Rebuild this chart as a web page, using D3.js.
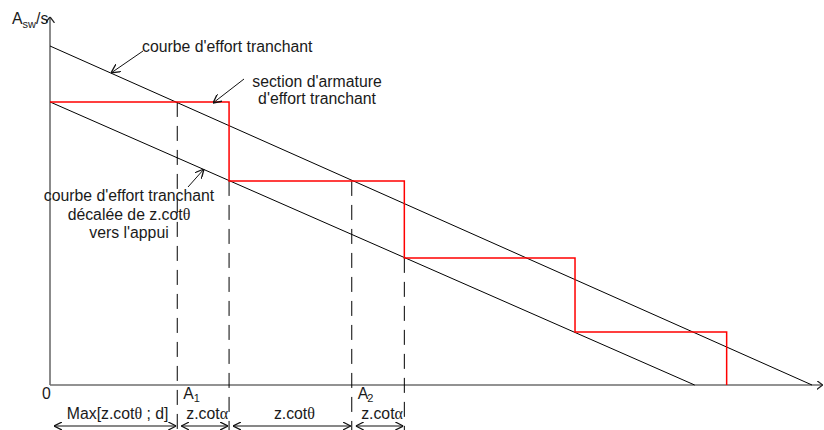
<!DOCTYPE html>
<html>
<head>
<meta charset="utf-8">
<script src="https://cdn.jsdelivr.net/npm/d3@7"></script>
<style>
  body { margin: 0; background: #fff; }
  text { font-family: "Liberation Sans", Arial, sans-serif; fill: #1a1a1a; }
</style>
</head>
<body>
<svg id="chart" width="824" height="430"></svg>
<script>
// Abscissa along the beam, ordinate = required Asw/s (arbitrary units)
const xDomain = [0, 100];
const yDomain = [0, 100];
const axisEnds = [101.4, 108.6];          // x and y arrow tips

// Shear force curve and the same curve shifted by z.cotθ towards the support
const shearCurve   = [[0, 100], [100, 0]];
const shiftedCurve = [[0, 83.5], [84.6, 0]];

// Stepped reinforcement section
const stepBreaks = [0, 23.5, 46.5, 68.9, 88.8];
const stepLevels = [83.5, 60.2, 37.5, 15.6];

// Dashed construction lines: abscissa and level where they start
const guideX     = [16.7, 23.5, 39.6, 46.5];
const guideFromY = [83.5, 60.2, 60.2, 37.5];
const guideToY   = -13.3;

// Dimension chain under the axis
const dimY      = -12.1;
const dimBreaks = [0, 16.7, 23.5, 39.6, 46.5];
const dimLabels = ["Max[z.cotθ ; d]", "z.cotα", "z.cotθ", "z.cotα"];

// Point labels on the abscissa
const pointLabels = [{ x: 0, main: "0", sub: "" },
                     { x: 16.7, main: "A", sub: "1" },
                     { x: 39.6, main: "A", sub: "2" }];

const svg = d3.select("#chart");
const x = d3.scaleLinear().domain(xDomain).range([50, 812]);
const y = d3.scaleLinear().domain(yDomain).range([385, 46]);

const defs = svg.append("defs");
function openHead(id, color, len, half) {
  defs.append("marker")
    .attr("id", id).attr("viewBox", `0 ${-half} ${len} ${2 * half}`)
    .attr("refX", len).attr("refY", 0)
    .attr("markerWidth", len).attr("markerHeight", 2 * half)
    .attr("markerUnits", "userSpaceOnUse").attr("orient", "auto-start-reverse")
    .append("path").attr("d", `M0,${-half}L${len},0L0,${half}`)
    .attr("fill", "none").attr("stroke", color).attr("stroke-width", 1.3);
}
openHead("axHead", "#222", 6, 4.5);
openHead("ptrHead", "#111", 9, 4.5);
openHead("dimHead", "#111", 8, 4);

// Axes
svg.append("line").attr("x1", x(0)).attr("y1", y(0)).attr("x2", x(axisEnds[0])).attr("y2", y(0))
  .attr("stroke", "#6e6e6e").attr("stroke-width", 1.6).attr("marker-end", "url(#axHead)");
svg.append("line").attr("x1", x(0)).attr("y1", y(0)).attr("x2", x(0)).attr("y2", y(axisEnds[1]))
  .attr("stroke", "#6e6e6e").attr("stroke-width", 1.6).attr("marker-end", "url(#axHead)");

// Dashed construction lines
svg.selectAll(".guide").data(guideX).join("line").attr("class", "guide")
  .attr("x1", d => x(d)).attr("x2", d => x(d))
  .attr("y1", (d, i) => y(guideFromY[i])).attr("y2", y(guideToY))
  .attr("stroke", "#000").attr("stroke-width", 1).attr("stroke-dasharray", "15,9");

// Shear curves
const line = d3.line().x(d => x(d[0])).y(d => y(d[1]));
[shearCurve, shiftedCurve].forEach(c =>
  svg.append("path").attr("d", line(c)).attr("fill", "none").attr("stroke", "#000").attr("stroke-width", 1));

// Stepped reinforcement
const stepPts = [];
stepLevels.forEach((v, i) => { stepPts.push([stepBreaks[i], v], [stepBreaks[i + 1], v]); });
stepPts.push([stepBreaks[stepBreaks.length - 1], 0]);
svg.append("path").attr("d", line(stepPts)).attr("fill", "none")
  .attr("stroke", "#ff0000").attr("stroke-width", 1.5);

// Text with Greek letters set in a serif face
function richText(sel, str) {
  str.split(/([θα])/).filter(s => s.length).forEach(s => {
    const t = sel.append("tspan").text(s);
    if (/[θα]/.test(s)) t.style("font-family", "'Liberation Serif', serif").attr("font-size", 16);
  });
}

// Dimension chain
dimBreaks.slice(0, -1).forEach((b, i) => {
  svg.append("line").attr("x1", x(b) + 4).attr("x2", x(dimBreaks[i + 1]) - 1)
    .attr("y1", y(dimY)).attr("y2", y(dimY)).attr("stroke", "#111").attr("stroke-width", 1.2)
    .attr("marker-start", "url(#dimHead)").attr("marker-end", "url(#dimHead)");
  const t = svg.append("text").attr("x", (x(b) + x(dimBreaks[i + 1])) / 2 + 4).attr("y", 419)
    .attr("text-anchor", "middle").attr("font-size", 15.8);
  richText(t, dimLabels[i]);
});

// Point labels
pointLabels.forEach(p => {
  const t = svg.append("text").attr("x", p.main === "0" ? x(p.x) - 8 : x(p.x) + 6).attr("y", 399)
    .attr("font-size", 15.8);
  t.append("tspan").text(p.main);
  if (p.sub) t.append("tspan").attr("font-size", 11).attr("dy", 3).attr("dx", p.sub === "2" ? -1 : 0).text(p.sub);
});

// Y axis title
const yt = svg.append("text").attr("x", 12).attr("y", 24).attr("font-size", 15.8);
yt.append("tspan").text("A");
yt.append("tspan").attr("font-size", 11).attr("dy", 4).text("sw");
yt.append("tspan").attr("dy", -4).text("/s");

// Callouts
function pointer(x1, y1, x2, y2) {
  svg.append("line").attr("x1", x1).attr("y1", y1).attr("x2", x2).attr("y2", y2)
    .attr("stroke", "#111").attr("stroke-width", 1).attr("marker-end", "url(#ptrHead)");
}
svg.append("text").attr("x", 142).attr("y", 52).attr("font-size", 15.8).text("courbe d'effort tranchant");
pointer(143, 51, 111, 73);

svg.append("text").attr("x", 317).attr("y", 87).attr("text-anchor", "middle").attr("font-size", 15.8).text("section d'armature");
svg.append("text").attr("x", 317).attr("y", 104).attr("text-anchor", "middle").attr("font-size", 15.8).text("d'effort tranchant");
pointer(244, 79, 213, 103);

const lower = ["courbe d'effort tranchant", "décalée de z.cotθ", "vers l'appui"];
lower.forEach((s, i) => {
  const t = svg.append("text").attr("x", 129).attr("y", 201 + i * 18.5).attr("text-anchor", "middle").attr("font-size", 15.8);
  richText(t, s);
});
pointer(188, 187, 204, 169);
</script>
</body>
</html>
